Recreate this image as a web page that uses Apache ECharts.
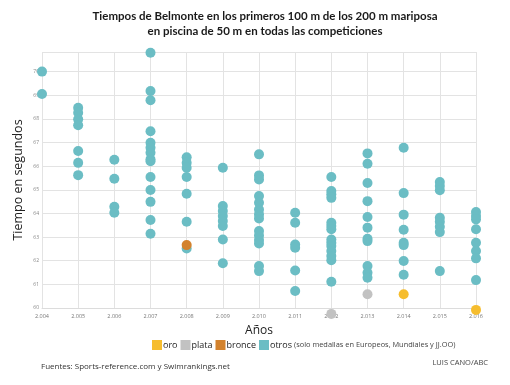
<!DOCTYPE html>
<html>
<head>
<meta charset="utf-8">
<script src="https://cdn.jsdelivr.net/npm/echarts@6/dist/echarts.min.js"></script>
<style>
html,body{margin:0;padding:0;background:#fff;}
#c{width:510px;height:385px;}
</style>
</head>
<body>
<div id="c"></div>
<script>
// ---- data ----
const years = [2004,2005,2006,2007,2008,2009,2010,2011,2012,2013,2014,2015,2016];
const otrosByYear = [
  [70.0, 69.05],
  [68.47, 68.26, 67.98, 67.73, 66.64, 66.14, 65.62],
  [66.27, 65.47, 64.28, 64.03],
  [70.8, 69.18, 68.79, 67.48, 66.99, 66.78, 66.57, 66.29, 66.21, 65.54, 64.99, 64.49, 63.72, 63.14],
  [66.38, 66.14, 65.93, 65.54, 64.83, 63.65, 62.52],
  [65.93, 64.31, 64.1, 63.89, 63.68, 63.47, 62.9, 61.89],
  [66.5, 65.61, 65.44, 64.74, 64.45, 64.17, 63.96, 63.79, 63.26, 63.07, 62.88, 62.73, 61.78, 61.56],
  [64.03, 63.61, 62.69, 62.55, 61.59, 60.72],
  [65.54, 64.95, 64.81, 64.66, 63.61, 63.47, 63.33, 62.9, 62.76, 62.62, 62.41, 62.2, 62.02, 61.11],
  [66.54, 66.1, 65.29, 64.52, 63.85, 63.4, 62.93, 62.83, 61.78, 61.49, 61.28],
  [66.78, 64.86, 63.95, 63.31, 62.76, 62.66, 61.99, 61.41],
  [65.33, 65.16, 64.98, 63.82, 63.65, 63.44, 63.21, 61.56],
  [64.06, 63.89, 63.75, 63.33, 62.76, 62.41, 62.1, 61.18]
];
const oroYears = [2014, 2016];
const oroValues = [60.58, 59.92];
const plataYears = [2012, 2013];
const plataValues = [59.75, 60.58];
const bronceYears = [2008];
const bronceValues = [62.66];
const yTicks = [60,61,62,63,64,65,66,67,68,69,70];
const seriesNames = ['oro','plata','bronce','otros'];

// ---- build ----
const otrosData = [];
years.forEach((y,i)=>otrosByYear[i].forEach(v=>otrosData.push([y,v])));
const pair = (xs,vs)=>xs.map((x,i)=>[x,vs[i]]);

const COL = {oro:'#F6BD2E', plata:'#C2C2C2', bronce:'#D3822D', otros:'#6BBDC4'};
const chart = echarts.init(document.getElementById('c'), null, {renderer:'canvas'});
const symSize = 10;
chart.setOption({
  backgroundColor:'#fff',
  animation:false,
  grid:{left:42, right:34, top:52, bottom:77},
  legend:{
    data:seriesNames, left:152, top:340, padding:0, icon:'rect', itemWidth:10, itemHeight:10, itemGap:3,
    textStyle:{fontFamily:'Open Sans', fontSize:9, color:'#222', padding:[0,0,0,-4]}
  },
  xAxis:{
    type:'value', min:2004, max:2016, interval:1,
    name:'Años', nameLocation:'middle', nameGap:17,
    nameTextStyle:{fontFamily:'Open Sans', fontSize:12, color:'#222'},
    axisLine:{show:true, lineStyle:{color:'#dcdcdc'}},
    axisTick:{show:false},
    axisLabel:{fontSize:5.5, color:'#777', margin:5, fontFamily:'Open Sans',
      formatter:v=>{const s=String(v);return s.charAt(0)+'.'+s.slice(1);}},
    splitLine:{show:true, lineStyle:{color:'#e3e3e3', width:1}}
  },
  yAxis:{
    type:'value', min:60, max:70.83, interval:1,
    name:'Tiempo en segundos', nameLocation:'middle', nameGap:17, nameRotate:90, nameMoveOverlap:false,
    nameTextStyle:{fontFamily:'Open Sans', fontSize:12.5, color:'#222'},
    axisLine:{show:false}, axisTick:{show:false},
    axisLabel:{fontSize:5, color:'#888', margin:3, fontFamily:'Open Sans',
      formatter:v=>(yTicks.indexOf(v)>=0?String(v):'')},
    splitLine:{show:true, lineStyle:{color:'#e3e3e3', width:1}}
  },
  series:[
    {name:'otros', type:'scatter', data:otrosData, symbolSize:symSize, clip:false, itemStyle:{color:COL.otros, opacity:1}, z:2},
    {name:'bronce', type:'scatter', data:pair(bronceYears,bronceValues), symbolSize:symSize, clip:false, itemStyle:{color:COL.bronce, opacity:1}, z:3},
    {name:'plata', type:'scatter', data:pair(plataYears,plataValues), symbolSize:symSize, clip:false, itemStyle:{color:COL.plata, opacity:1}, z:3},
    {name:'oro', type:'scatter', data:pair(oroYears,oroValues), symbolSize:symSize, clip:false, itemStyle:{color:COL.oro, opacity:1}, z:3}
  ],
  graphic:[
    {type:'text', x:265, y:10, style:{text:'Tiempos de Belmonte en los primeros 100 m de los 200 m mariposa', font:'bold 11.5px Lato', fill:'#1a1a1a', textAlign:'center'}},
    {type:'text', x:265, y:25, style:{text:'en piscina de 50 m en todas las competiciones', font:'bold 11.5px Lato', fill:'#1a1a1a', textAlign:'center'}},
    {type:'text', left:294, top:341, style:{text:'(solo medallas en Europeos, Mundiales y JJ.OO)', font:'7.4px "Open Sans"', fill:'#444'}},
    {type:'text', left:41, top:363, style:{text:'Fuentes: Sports-reference.com y Swimrankings.net', font:'8px "Open Sans"', fill:'#333'}},
    {type:'text', right:22, top:359, style:{text:'LUIS CANO/ABC', font:'7.5px "Open Sans"', fill:'#444'}}
  ]
});
</script>
</body>
</html>
